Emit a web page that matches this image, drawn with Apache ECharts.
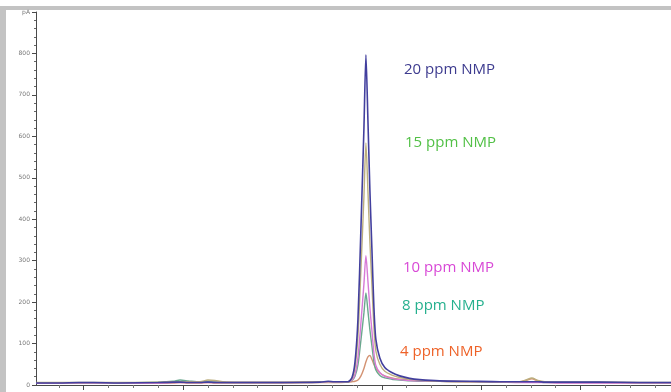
<!DOCTYPE html>
<html>
<head>
<meta charset="utf-8">
<script src="https://cdn.jsdelivr.net/npm/echarts@6/dist/echarts.min.js"></script>
<style>
  html, body { margin: 0; padding: 0; background: #fff; }
  #chart { width: 671px; height: 392px; }
</style>
</head>
<body>
<div id="chart"></div>
<script>
// retention time (min)
const times = [0.52, 0.75, 0.95, 1.1, 1.35, 1.75, 1.9, 1.97, 2.05, 2.17, 2.25, 2.32, 2.4, 2.6, 3.0,
  3.38, 3.46, 3.52, 3.58, 3.66, 3.70, 3.73, 3.76, 3.79, 3.82, 3.84, 3.86, 3.88, 3.90, 3.92, 3.94,
  3.98, 4.03, 4.10, 4.18, 4.28, 4.38, 4.58, 4.89, 5.19, 5.39, 5.45, 5.51, 5.57, 5.64, 5.79, 6.19, 6.59, 6.91];

// signal (pA)
const ppm20 = [5, 5, 6, 6, 5, 6, 7, 7, 6, 6, 7, 6, 6, 6, 6,
  7, 9, 8, 8, 8, 18, 55, 160, 380, 620, 797, 640, 470, 330, 190, 110,
  65, 42, 30, 22, 16, 13, 10, 9, 8, 8, 8, 8, 8, 7, 7, 7, 6, 6];
const ppm15 = [6, 6, 6, 6, 6, 7, 8, 8, 8, 8, 12, 11, 8, 7, 7,
  8, 8, 8, 8, 8, 15, 42, 119, 280, 455, 584, 469, 345, 243, 141, 82,
  50, 33, 24, 18, 14, 12, 9, 8, 8, 8, 12, 17, 11, 8, 7, 7, 6, 6];
const ppm10 = [4, 4, 5, 5, 5, 5, 6, 6, 6, 6, 6, 6, 6, 6, 6,
  7, 7, 7, 7, 8, 12, 26, 67, 151, 244, 312, 251, 186, 132, 78, 47,
  30, 21, 16, 13, 11, 10, 9, 8, 7, 6, 6, 6, 6, 6, 5, 5, 5, 5];
const ppm8 = [5, 5, 5, 5, 5, 7, 9, 12, 10, 7, 9, 8, 6, 6, 6,
  7, 7, 7, 7, 8, 11, 21, 49, 109, 174, 222, 179, 133, 95, 57, 36,
  23, 17, 14, 12, 10, 9, 9, 8, 7, 7, 7, 7, 7, 6, 6, 6, 5, 5];
const ppm4 = [4, 4, 4, 4, 4, 5, 5, 6, 5, 5, 6, 5, 5, 5, 5,
  6, 6, 6, 6, 7, 8, 9, 12, 22, 40, 56, 68, 71, 62, 50, 40,
  29, 22, 17, 14, 12, 10, 9, 8, 7, 8, 11, 15, 10, 7, 6, 6, 5, 5];

const seriesNames = ['4 ppm NMP', '8 ppm NMP', '10 ppm NMP', '15 ppm NMP', '20 ppm NMP'];
const seriesData = [ppm4, ppm8, ppm10, ppm15, ppm20];
const lineColors = ['#d39272', '#6aa88e', '#d77ad6', '#bcae7e', '#423f9e'];

const xMajorTicks = [1, 2, 3, 4, 5, 6];
const xMinorTicks = [0.75, 1.25, 1.5, 1.75, 2.25, 2.5, 2.75, 3.25, 3.5, 3.75,
  4.25, 4.5, 4.75, 5.25, 5.5, 5.75, 6.25, 6.5, 6.75];
const yMax = 900;
const yUnit = 'pA';

const chart = echarts.init(document.getElementById('chart'));

const axisColor = '#4a4a4a';
const xMin = 0.52, xMax = 6.91;

chart.setOption({
  animation: false,
  grid: { left: 36, right: 0, top: 12, bottom: 7, outerBoundsMode: 'none' },
  xAxis: [
    {
      type: 'value', min: xMin, max: xMax,
      axisLine: { show: true, lineStyle: { color: axisColor, width: 1 } },
      axisTick: { show: true, customValues: xMajorTicks, length: 5, lineStyle: { color: axisColor } },
      axisLabel: { show: false },
      splitLine: { show: false }
    },
    {
      type: 'value', min: xMin, max: xMax, position: 'bottom',
      axisLine: { show: false },
      axisTick: { show: true, customValues: xMinorTicks, length: 3, lineStyle: { color: '#777' } },
      axisLabel: { show: false },
      splitLine: { show: false }
    }
  ],
  yAxis: {
    type: 'value', min: 0, max: yMax, interval: 100,
    axisLine: { show: true, lineStyle: { color: axisColor, width: 1 } },
    axisTick: { show: true, length: 4, lineStyle: { color: axisColor } },
    minorTick: { show: true, splitNumber: 5, length: 2, lineStyle: { color: '#666' } },
    axisLabel: {
      margin: 6, fontSize: 6, color: '#777', fontFamily: 'DejaVu Sans',
      formatter: v => (v === yMax ? yUnit : String(v))
    },
    splitLine: { show: false }
  },
  series: seriesNames.map((name, i) => ({
    name: name,
    type: 'line',
    xAxisIndex: 0,
    data: times.map((t, j) => [t, seriesData[i][j]]),
    showSymbol: false,
    smooth: 0.25,
    lineStyle: { color: lineColors[i], width: i === 4 ? 1.6 : 1.4 },
    z: 2 + i
  })),
  graphic: [
    { type: 'rect', shape: { x: 0, y: 6, width: 671, height: 4 }, style: { fill: '#c3c3c3' } },
    { type: 'rect', shape: { x: 0, y: 6, width: 6, height: 386 }, style: { fill: '#c3c3c3' } },
    { type: 'text', left: 404, top: 62, style: { text: '20 ppm NMP', fill: '#3d3b8f', font: '15px "Open Sans"' } },
    { type: 'text', left: 405, top: 135, style: { text: '15 ppm NMP', fill: '#52c046', font: '15px "Open Sans"' } },
    { type: 'text', left: 403, top: 260, style: { text: '10 ppm NMP', fill: '#d848d6', font: '15px "Open Sans"' } },
    { type: 'text', left: 402, top: 298, style: { text: '8 ppm NMP', fill: '#25b08e', font: '15px "Open Sans"' } },
    { type: 'text', left: 400, top: 344, style: { text: '4 ppm NMP', fill: '#ee6228', font: '15px "Open Sans"' } }
  ]
});
</script>
</body>
</html>
